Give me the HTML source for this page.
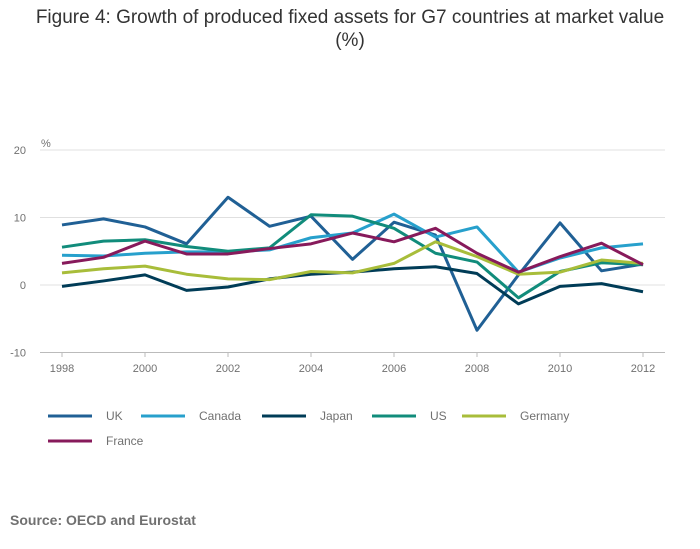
<!DOCTYPE html>
<html><head><meta charset="utf-8"><style>
body{margin:0;background:#fff;font-family:"Liberation Sans",sans-serif;}
#wrap{position:relative;width:700px;height:549px;overflow:hidden;}
.title{position:absolute;left:0;top:6px;width:700px;text-align:center;font-size:19px;color:#333;line-height:23px;}
.src{position:absolute;left:10px;top:512px;font-size:14px;font-weight:bold;color:#707070;}
</style></head><body>
<div id="wrap">
<div class="title">Figure 4: Growth of produced fixed assets for G7 countries at market value<br>(%)</div>
<svg id="svg" width="700" height="549" style="position:absolute;left:0;top:0"></svg>
<div class="src">Source: OECD and Eurostat</div>
</div>
<script>
const years=[1998,1999,2000,2001,2002,2003,2004,2005,2006,2007,2008,2009,2010,2011,2012];
const uk=[8.9,9.8,8.6,6.1,13,8.7,10.2,3.8,9.3,7.4,-6.7,1.5,9.2,2.1,3.1];
const canada=[4.4,4.3,4.7,4.9,4.9,5.2,7.0,7.7,10.5,7.1,8.6,1.9,4.0,5.5,6.1];
const japan=[-0.2,0.6,1.5,-0.8,-0.3,0.9,1.6,1.9,2.4,2.7,1.7,-2.8,-0.2,0.2,-1.0];
const us=[5.6,6.5,6.7,5.7,5.0,5.5,10.4,10.2,8.4,4.7,3.4,-1.9,2.0,3.3,3.0];
const germany=[1.8,2.4,2.8,1.6,0.9,0.8,2.0,1.8,3.2,6.4,4.2,1.6,1.9,3.7,3.2];
const france=[3.2,4.1,6.5,4.6,4.6,5.4,6.1,7.7,6.4,8.4,4.7,1.9,4.2,6.2,3.0];
const yTicks=[20,10,0,-10];
const xTicks=[1998,2000,2002,2004,2006,2008,2010,2012];
const seriesNames=["UK","Canada","Japan","US","Germany","France"];
const colors=["#206095","#27a0cc","#003c57","#118c7b","#a8bd3a","#871a5b"];
const all=[uk,canada,japan,us,germany,france];
const X=y=>62+(y-1998)*(643-62)/14;
const Y=v=>285-v*6.75;
const svg=document.getElementById('svg');
const NS='http://www.w3.org/2000/svg';
function mk(t,a){const e=document.createElementNS(NS,t);for(const k in a)e.setAttribute(k,a[k]);svg.appendChild(e);return e;}
yTicks.forEach(v=>{
 const l=mk('line',{x1:40,x2:665,y1:Y(v),y2:Y(v),stroke:'#e0e0e0','stroke-width':1});
 
 
 const t=mk('text',{x:26,y:Y(v)+4,'font-size':11,fill:'#707070','text-anchor':'end'});t.textContent=v;
 
 
});
const pt=mk('text',{x:41,y:147,'font-size':11,fill:'#707070'});pt.textContent='%';


const ax=mk('line',{x1:40,x2:665,y1:352.5,y2:352.5,stroke:'#bbb','stroke-width':1});


xTicks.forEach(y=>{
 const tk=mk('line',{x1:X(y),x2:X(y),y1:352,y2:357,stroke:'#bbb'});
 
 
 const t=mk('text',{x:X(y),y:372,'font-size':11,fill:'#707070','text-anchor':'middle'});t.textContent=y;
 
 
});
all.forEach((s,i)=>{
 const p=mk('polyline',{points:s.map((v,j)=>X(years[j])+','+Y(v)).join(' '),fill:'none',stroke:colors[i],'stroke-width':3,'stroke-linejoin':'round'});
 
 
});
const lx=[48,141,262,372,462,48],ly=[416,416,416,416,416,441];
seriesNames.forEach((n,i)=>{
 const l=mk('line',{x1:lx[i],x2:lx[i]+44,y1:ly[i],y2:ly[i],stroke:colors[i],'stroke-width':3});
 
 
 const t=mk('text',{x:lx[i]+58,y:ly[i]+4,'font-size':12,fill:'#707070'});t.textContent=n;
 
 
});
</script>
</body></html>
